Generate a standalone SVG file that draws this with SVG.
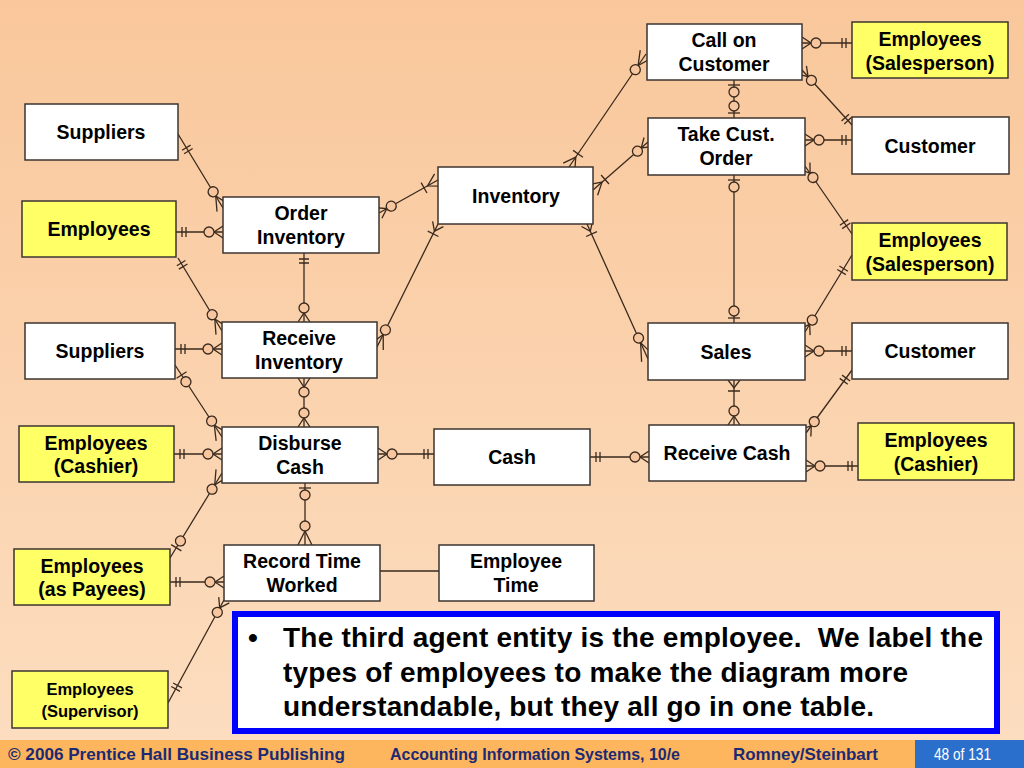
<svg xmlns="http://www.w3.org/2000/svg" xmlns:xlink="http://www.w3.org/1999/xlink" width="1024" height="768" viewBox="0 0 1024 768">
<defs>
<linearGradient id="bg" x1="0" y1="0" x2="0" y2="1">
<stop offset="0" stop-color="#F9C79B"/>
<stop offset="1" stop-color="#FCDDBF"/>
</linearGradient>
<style>
.box{fill:#FFFFFF;stroke:#3D3530;stroke-width:1.5}
.yel{fill:#FFFF66;stroke:#3D3530;stroke-width:1.5}
.t{font-family:"Liberation Sans",Arial,sans-serif;font-weight:bold;font-size:19.5px;fill:#000;text-anchor:middle}
.ts{font-size:16.5px}
.ln{stroke:#3A2A1E;stroke-width:1.3;fill:none}
.sym{stroke:#3A2A1E;stroke-width:1.3;fill:none}
.cir{stroke:#3A2A1E;stroke-width:1.3;fill:#F8C69E}
.ft{font-family:"Liberation Sans",Arial,sans-serif;font-weight:bold;font-size:17px;fill:#1B2A72}
.bt{font-family:"Liberation Sans",Arial,sans-serif;font-weight:bold;font-size:28px;fill:#000}
</style>
<g id="oo"><path class="sym" d="M6,-5V5M10,-5V5"/></g>
<g id="ooM"><path class="sym" d="M10,-5V5M14,-5V5"/></g>
<g id="ooL"><path class="sym" d="M16,-5V5M20,-5V5"/></g>
<g id="zo"><path class="sym" d="M5,-6V6"/><circle class="cir" cx="12" cy="0" r="5"/></g>
<g id="zoL"><path class="sym" d="M12,-6V6"/><circle class="cir" cx="20" cy="0" r="5"/></g>
<g id="mz"><path class="sym" d="M0,-6L9,0L0,6"/><circle class="cir" cx="14" cy="0" r="5"/></g>
<g id="mzL"><path class="sym" d="M0,-7L14,0L0,7"/><circle class="cir" cx="19" cy="0" r="5"/></g>
<g id="mzXL"><path class="sym" d="M0,-7L18,0L0,7"/><circle class="cir" cx="23" cy="0" r="5"/></g>
<g id="om"><path class="sym" d="M0,-6L8,0L0,6M11,-6V6"/></g>
<g id="omL"><path class="sym" d="M0,-7L12,0L0,7M16,-6V6"/></g>
</defs>

<rect x="0" y="0" width="1024" height="740" fill="url(#bg)"/>
<rect x="0" y="740" width="1024" height="28" fill="#FDB55E"/>
<rect x="915" y="740" width="109" height="28" fill="#2B6FCC"/>
<text class="ft" x="8" y="760" textLength="337" lengthAdjust="spacingAndGlyphs">© 2006 Prentice Hall Business Publishing</text>
<text class="ft" x="390" y="760" textLength="290" lengthAdjust="spacingAndGlyphs">Accounting Information Systems, 10/e</text>
<text class="ft" x="733" y="760" textLength="145" lengthAdjust="spacingAndGlyphs">Romney/Steinbart</text>
<text x="934" y="760" font-family="Liberation Sans, Arial, sans-serif" font-size="17" fill="#FFFFFF" textLength="57" lengthAdjust="spacingAndGlyphs">48 of 131</text>

<g id="connectors">
<path class="ln" d="M178,134L223,208 M176,232H223 M178,258L222,331 M379,213L438,180 M304,253V322 M438,224L377,347 M175,349H222 M175,365L222,437 M304,378V427 M174,454H222 M378,454H434 M222,473L170,558 M305,483V545 M170,582H224 M224,600L168,703 M380,571H439 M569,167L646,54 M593,190L648,142 M587,224L648,359 M802,43H852 M734,80V118 M802,70L852,125 M805,140H852 M805,166L852,234 M734,175V323 M852,255L805,332 M805,351H852 M734,380V425 M852,370L806,433 M806,466H858 M590,457H649"/>
<use href="#ooL" transform="translate(178,134) rotate(58.7)"/>
<use href="#mzL" transform="translate(223,208) rotate(238.7)"/>
<use href="#oo" transform="translate(176,232)"/>
<use href="#mz" transform="translate(223,232) rotate(180)"/>
<use href="#oo" transform="translate(178,258) rotate(58.9)"/>
<use href="#mzL" transform="translate(222,331) rotate(238.9)"/>
<use href="#mz" transform="translate(379,213) rotate(-29.2)"/>
<use href="#omL" transform="translate(438,180) rotate(150.8)"/>
<use href="#oo" transform="translate(304,253) rotate(90)"/>
<use href="#mz" transform="translate(304,322) rotate(270)"/>
<use href="#om" transform="translate(438,224) rotate(116.4)"/>
<use href="#mzL" transform="translate(377,347) rotate(-63.6)"/>
<use href="#oo" transform="translate(175,349)"/>
<use href="#mz" transform="translate(222,349) rotate(180)"/>
<use href="#zoL" transform="translate(175,365) rotate(56.9)"/>
<use href="#mzL" transform="translate(222,437) rotate(236.9)"/>
<use href="#mz" transform="translate(304,378) rotate(90)"/>
<use href="#mz" transform="translate(304,427) rotate(270)"/>
<use href="#oo" transform="translate(174,454)"/>
<use href="#mz" transform="translate(222,454) rotate(180)"/>
<use href="#mz" transform="translate(378,454)"/>
<use href="#oo" transform="translate(434,454) rotate(180)"/>
<use href="#mzL" transform="translate(222,473) rotate(121.5)"/>
<use href="#zoL" transform="translate(170,558) rotate(-58.5)"/>
<use href="#zo" transform="translate(305,483) rotate(90)"/>
<use href="#mzL" transform="translate(305,545) rotate(270)"/>
<use href="#oo" transform="translate(170,582)"/>
<use href="#mz" transform="translate(224,582) rotate(180)"/>
<use href="#mz" transform="translate(224,600) rotate(118.5)"/>
<use href="#ooL" transform="translate(168,703) rotate(-61.5)"/>
<use href="#omL" transform="translate(569,167) rotate(-55.7)"/>
<use href="#mzL" transform="translate(646,54) rotate(124.3)"/>
<use href="#omL" transform="translate(593,190) rotate(-41.1)"/>
<use href="#mz" transform="translate(648,142) rotate(138.9)"/>
<use href="#om" transform="translate(587,224) rotate(65.7)"/>
<use href="#mzXL" transform="translate(648,359) rotate(245.7)"/>
<use href="#mz" transform="translate(802,43)"/>
<use href="#oo" transform="translate(852,43) rotate(180)"/>
<use href="#zo" transform="translate(734,80) rotate(90)"/>
<use href="#zo" transform="translate(734,118) rotate(270)"/>
<use href="#mz" transform="translate(802,70) rotate(47.7)"/>
<use href="#oo" transform="translate(852,125) rotate(227.7)"/>
<use href="#mz" transform="translate(805,140)"/>
<use href="#oo" transform="translate(852,140) rotate(180)"/>
<use href="#mz" transform="translate(805,166) rotate(55.3)"/>
<use href="#ooM" transform="translate(852,234) rotate(235.3)"/>
<use href="#zo" transform="translate(734,175) rotate(90)"/>
<use href="#zo" transform="translate(734,323) rotate(270)"/>
<use href="#ooL" transform="translate(852,255) rotate(121.4)"/>
<use href="#mz" transform="translate(805,332) rotate(-58.6)"/>
<use href="#mz" transform="translate(805,351)"/>
<use href="#oo" transform="translate(852,351) rotate(180)"/>
<use href="#om" transform="translate(734,380) rotate(90)"/>
<use href="#mz" transform="translate(734,425) rotate(270)"/>
<use href="#ooM" transform="translate(852,370) rotate(126.1)"/>
<use href="#mz" transform="translate(806,433) rotate(-53.9)"/>
<use href="#mz" transform="translate(806,466)"/>
<use href="#oo" transform="translate(858,466) rotate(180)"/>
<use href="#oo" transform="translate(590,457)"/>
<use href="#mz" transform="translate(649,457) rotate(180)"/>
</g>

<g id="suppliers1"><rect class="box" x="25" y="104" width="153" height="56"/><text class="t" x="101" y="139">Suppliers</text></g>
<g id="employees1"><rect class="yel" x="22" y="201" width="154" height="56"/><text class="t" x="99" y="236">Employees</text></g>
<g id="suppliers2"><rect class="box" x="25" y="323" width="150" height="56"/><text class="t" x="100" y="358">Suppliers</text></g>
<g id="employeesCashierL"><rect class="yel" x="19" y="426" width="155" height="56"/><text class="t" x="96" y="450">Employees</text><text class="t" x="96" y="473">(Cashier)</text></g>
<g id="employeesPayees"><rect class="yel" x="14" y="549" width="156" height="56"/><text class="t" x="92" y="573">Employees</text><text class="t" x="92" y="596">(as Payees)</text></g>
<g id="employeesSupervisor"><rect class="yel" x="12" y="671" width="156" height="57"/><text class="t ts" x="90" y="695">Employees</text><text class="t ts" x="90" y="717">(Supervisor)</text></g>

<g id="orderInventory"><rect class="box" x="223" y="197" width="156" height="56"/><text class="t" x="301" y="220">Order</text><text class="t" x="301" y="244">Inventory</text></g>
<g id="receiveInventory"><rect class="box" x="222" y="322" width="155" height="56"/><text class="t" x="299" y="345">Receive</text><text class="t" x="299" y="369">Inventory</text></g>
<g id="disburseCash"><rect class="box" x="222" y="427" width="156" height="56"/><text class="t" x="300" y="450">Disburse</text><text class="t" x="300" y="474">Cash</text></g>
<g id="recordTimeWorked"><rect class="box" x="224" y="545" width="156" height="56"/><text class="t" x="302" y="568">Record Time</text><text class="t" x="302" y="592">Worked</text></g>

<g id="inventory"><rect class="box" x="438" y="167" width="155" height="57"/><text class="t" x="516" y="203">Inventory</text></g>
<g id="cash"><rect class="box" x="434" y="429" width="156" height="56"/><text class="t" x="512" y="464">Cash</text></g>
<g id="employeeTime"><rect class="box" x="439" y="545" width="155" height="56"/><text class="t" x="516" y="568">Employee</text><text class="t" x="516" y="592">Time</text></g>

<g id="callOnCustomer"><rect class="box" x="647" y="24" width="155" height="56"/><text class="t" x="724" y="47">Call on</text><text class="t" x="724" y="71">Customer</text></g>
<g id="takeCustOrder"><rect class="box" x="648" y="118" width="157" height="57"/><text class="t" x="726" y="141">Take Cust.</text><text class="t" x="726" y="165">Order</text></g>
<g id="sales"><rect class="box" x="648" y="323" width="157" height="57"/><text class="t" x="726" y="359">Sales</text></g>
<g id="receiveCash"><rect class="box" x="649" y="425" width="157" height="56"/><text class="t" x="727" y="460">Receive Cash</text></g>

<g id="employeesSalesTop"><rect class="yel" x="852" y="22" width="156" height="56"/><text class="t" x="930" y="46">Employees</text><text class="t" x="930" y="70">(Salesperson)</text></g>
<g id="customerTop"><rect class="box" x="852" y="117" width="157" height="57"/><text class="t" x="930" y="153">Customer</text></g>
<g id="employeesSalesMid"><rect class="yel" x="852" y="223" width="155" height="57"/><text class="t" x="930" y="247">Employees</text><text class="t" x="930" y="271">(Salesperson)</text></g>
<g id="customerMid"><rect class="box" x="852" y="323" width="156" height="56"/><text class="t" x="930" y="358">Customer</text></g>
<g id="employeesCashierR"><rect class="yel" x="858" y="423" width="156" height="57"/><text class="t" x="936" y="447">Employees</text><text class="t" x="936" y="471">(Cashier)</text></g>

<g id="note">
<rect x="235" y="614" width="762" height="117" fill="#FFFFFF" stroke="#0000FF" stroke-width="6"/>
<text class="bt" x="248" y="647">•</text>
<text class="bt" x="283" y="647" xml:space="preserve" textLength="700" lengthAdjust="spacing">The third agent entity is the employee.  We label the</text>
<text class="bt" x="283" y="682" textLength="625" lengthAdjust="spacing">types of employees to make the diagram more</text>
<text class="bt" x="283" y="716" textLength="591" lengthAdjust="spacing">understandable, but they all go in one table.</text>
</g>
</svg>
